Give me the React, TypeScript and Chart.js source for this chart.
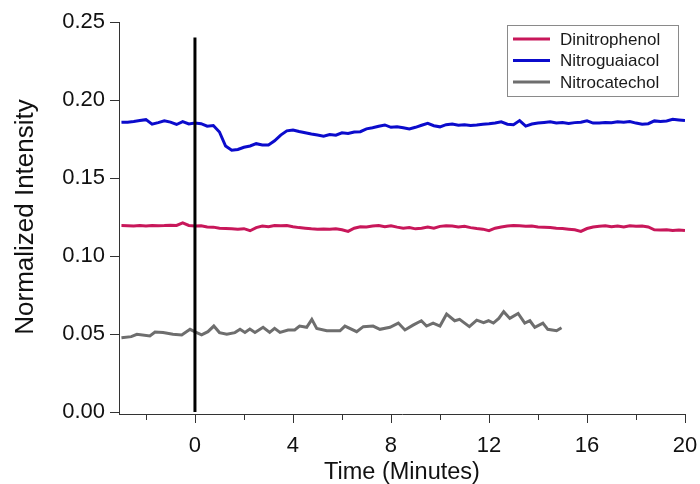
import React, { useEffect, useRef } from 'react';
import { Chart, registerables } from 'chart.js';

Chart.register(...registerables);

const FONT = "'Liberation Sans', Arial, Helvetica, sans-serif";

const TIME = [
  -3, -2.75, -2.5, -2.25, -2, -1.75, -1.5, -1.25, -1, -0.75, -0.5, -0.25,
  0, 0.25, 0.5, 0.75, 1, 1.25, 1.5, 1.75, 2, 2.25, 2.5, 2.75,
  3, 3.25, 3.5, 3.75, 4, 4.25, 4.5, 4.75, 5, 5.25, 5.5, 5.75,
  6, 6.25, 6.5, 6.75, 7, 7.25, 7.5, 7.75, 8, 8.25, 8.5, 8.75,
  9, 9.25, 9.5, 9.75, 10, 10.25, 10.5, 10.75, 11, 11.25, 11.5, 11.75,
  12, 12.25, 12.5, 12.75, 13, 13.25, 13.5, 13.75, 14, 14.25, 14.5, 14.75,
  15, 15.25, 15.5, 15.75, 16, 16.25, 16.5, 16.75, 17, 17.25, 17.5, 17.75,
  18, 18.25, 18.5, 18.75, 19, 19.25, 19.5, 19.75, 20,
];

const DINITROPHENOL = [
  0.1195, 0.1194, 0.1192, 0.1195, 0.1193, 0.1196, 0.1194, 0.1195, 0.1197, 0.1196, 0.1212, 0.1196,
  0.1192, 0.1194, 0.1186, 0.1185, 0.1178, 0.1176, 0.1174, 0.1172, 0.1175, 0.1162, 0.1182, 0.1192,
  0.1188, 0.1196, 0.1194, 0.1195, 0.1188, 0.1182, 0.1178, 0.1174, 0.1172, 0.1173, 0.1171, 0.1174,
  0.1168, 0.1158, 0.1178, 0.1188, 0.1186, 0.1192, 0.1196, 0.1188, 0.1194, 0.1185, 0.1178, 0.1182,
  0.1174, 0.1178, 0.1185, 0.1178, 0.119, 0.1194, 0.1192, 0.1186, 0.119, 0.1182, 0.1176, 0.1172,
  0.1162, 0.1178, 0.1186, 0.1192, 0.1196, 0.1194, 0.119, 0.1192, 0.1186, 0.1184, 0.1182, 0.1178,
  0.1176, 0.1172, 0.1168, 0.1158, 0.1176, 0.1186, 0.119, 0.1194, 0.1188, 0.1192, 0.1186, 0.1194,
  0.119, 0.1192, 0.1186, 0.1168, 0.1166, 0.1168, 0.1164, 0.1167, 0.1163,
];

const NITROGUAIACOL = [
  0.1857, 0.1858, 0.1862, 0.1868, 0.1874, 0.1845, 0.1855, 0.1866, 0.1858, 0.1843, 0.1862, 0.1847,
  0.1852, 0.1848, 0.1832, 0.1836, 0.1795, 0.1705, 0.1678, 0.1683, 0.1697, 0.1705, 0.172, 0.1712,
  0.1712, 0.1738, 0.1775, 0.1802, 0.1808, 0.1798, 0.179, 0.1782, 0.1775, 0.1768, 0.1778, 0.1774,
  0.179, 0.1785, 0.1795, 0.1797, 0.1815, 0.1822, 0.1832, 0.184, 0.1825, 0.1828, 0.1822, 0.1815,
  0.1825, 0.1838, 0.185, 0.1835, 0.1828, 0.1842, 0.1846, 0.1838, 0.1842, 0.1836, 0.184, 0.1845,
  0.1848, 0.1852, 0.186, 0.1845, 0.1842, 0.1868, 0.1833, 0.1846, 0.1852, 0.1856, 0.186, 0.1852,
  0.1855, 0.185, 0.1855, 0.1858, 0.1866, 0.1852, 0.1852, 0.1856, 0.1854, 0.186, 0.1857, 0.1862,
  0.1852, 0.1844, 0.1848, 0.1866, 0.1862, 0.1866, 0.1876, 0.1872, 0.1868,
];

const CATECHOL_TIME = [
  -3, -2.6, -2.37, -1.84, -1.63, -1.3, -0.9, -0.54, -0.2, 0.07,
  0.27, 0.53, 0.77, 1.0, 1.3, 1.63, 1.84, 2.04, 2.24, 2.45,
  2.78, 3.05, 3.25, 3.47, 3.8, 4.07, 4.27, 4.56, 4.77, 4.97,
  5.38, 5.92, 6.12, 6.6, 6.87, 7.27, 7.55, 7.96, 8.3, 8.57,
  8.9, 9.24, 9.45, 9.72, 10.0, 10.27, 10.6, 10.8, 11.2, 11.5,
  11.78, 11.98, 12.18, 12.4, 12.6, 12.85, 13.19, 13.46, 13.67, 13.87,
  14.2, 14.4, 14.76, 14.96,
];

const NITROCATECHOL = [
  0.0476, 0.0483, 0.0498, 0.0487, 0.0513, 0.051, 0.0498, 0.0494, 0.053, 0.0509,
  0.0494, 0.0515, 0.0551, 0.0509, 0.0498, 0.0509, 0.053, 0.051, 0.0532, 0.051,
  0.0543, 0.051, 0.0536, 0.051, 0.0526, 0.0526, 0.0551, 0.0543, 0.0594, 0.0536,
  0.0521, 0.0521, 0.0551, 0.0515, 0.0547, 0.0551, 0.053, 0.0543, 0.057, 0.0526,
  0.0557, 0.0585, 0.0551, 0.057, 0.0551, 0.0628, 0.0585, 0.0594, 0.0547, 0.0589,
  0.0573, 0.0585, 0.057, 0.06, 0.0643, 0.06, 0.0632, 0.057, 0.0585, 0.0543,
  0.057, 0.053, 0.0521, 0.054,
];

const MARKER_TIME = [0, 0];
const MARKER_VALUES = [0, 0.24];

const X_MIN = -3.1;
const X_MAX = 20;
const X_MAJOR_TICKS = [0, 4, 8, 12, 16, 20];
const X_MINOR_TICKS = [-2, 2, 6, 10, 14, 18];
const Y_MIN = 0;
const Y_MAX = 0.25;
const Y_TICKS = [0, 0.05, 0.1, 0.15, 0.2, 0.25];

const SERIES_NAMES = ['Dinitrophenol', 'Nitroguaiacol', 'Nitrocatechol'];
const SERIES_COLORS = ['#C8175A', '#0B0BCC', '#6E6E6E'];

const X_TITLE = 'Time (Minutes)';
const Y_TITLE = 'Normalized Intensity';

const zip = (xs: number[], ys: number[]) => xs.map((x, i) => ({ x, y: ys[i] }));

const axesPlugin = {
  id: 'customAxes',
  afterDraw(chart: any) {
    const { ctx, chartArea, scales } = chart;
    const xs = scales.x;
    const ys = scales.y;
    const axisY = chartArea.bottom + 2;
    const axisX = chartArea.left;
    ctx.save();
    ctx.strokeStyle = '#333';
    ctx.lineWidth = 1;
    ctx.beginPath();
    ctx.moveTo(axisX + 0.5, ys.getPixelForValue(Y_MAX));
    ctx.lineTo(axisX + 0.5, axisY);
    ctx.moveTo(axisX, axisY + 0.5);
    ctx.lineTo(xs.getPixelForValue(X_MAX) + 1, axisY + 0.5);
    Y_TICKS.forEach((v) => {
      const p = Math.round(ys.getPixelForValue(v)) + 0.5;
      ctx.moveTo(axisX - 9, p);
      ctx.lineTo(axisX + 0.5, p);
    });
    X_MAJOR_TICKS.forEach((v) => {
      const p = Math.round(xs.getPixelForValue(v)) + 0.5;
      ctx.moveTo(p, axisY);
      ctx.lineTo(p, axisY + 9);
    });
    X_MINOR_TICKS.forEach((v) => {
      const p = Math.round(xs.getPixelForValue(v)) + 0.5;
      ctx.moveTo(p, axisY);
      ctx.lineTo(p, axisY + 6);
    });
    ctx.stroke();

    const boxL = 507;
    const boxT = 25;
    const boxW = 171;
    const boxH = 71;
    ctx.strokeStyle = '#8a8a8a';
    ctx.lineWidth = 1;
    ctx.strokeRect(boxL + 0.5, boxT + 0.5, boxW, boxH);
    ctx.font = `17px ${FONT}`;
    ctx.textBaseline = 'middle';
    ctx.textAlign = 'left';
    SERIES_NAMES.forEach((name, i) => {
      const yy = boxT + 14 + i * 21.5;
      ctx.strokeStyle = SERIES_COLORS[i];
      ctx.lineWidth = 3;
      ctx.beginPath();
      ctx.moveTo(boxL + 6, yy);
      ctx.lineTo(boxL + 43, yy);
      ctx.stroke();
      ctx.fillStyle = '#1a1a1a';
      ctx.fillText(name, boxL + 53, yy + 1);
    });
    ctx.restore();
  },
};

export default function App() {
  const canvasRef = useRef<HTMLCanvasElement | null>(null);

  useEffect(() => {
    const canvas = canvasRef.current;
    if (!canvas) return;
    const lineDs = (label: string, data: any[], color: string) => ({
      label,
      data,
      borderColor: color,
      backgroundColor: color,
      borderWidth: 3,
      pointRadius: 0,
      tension: 0,
      fill: false,
      order: 1,
    });
    const chart = new Chart(canvas, {
      type: 'line',
      data: {
        datasets: [
          {
            label: 'marker',
            data: zip(MARKER_TIME, MARKER_VALUES),
            borderColor: '#000',
            borderWidth: 3,
            pointRadius: 0,
            fill: false,
            order: 0,
          },
          lineDs(SERIES_NAMES[0], zip(TIME, DINITROPHENOL), SERIES_COLORS[0]),
          lineDs(SERIES_NAMES[1], zip(TIME, NITROGUAIACOL), SERIES_COLORS[1]),
          lineDs(SERIES_NAMES[2], zip(CATECHOL_TIME, NITROCATECHOL), SERIES_COLORS[2]),
        ],
      },
      options: {
        animation: false,
        responsive: false,
        layout: { padding: 0 },
        plugins: { legend: { display: false }, tooltip: { enabled: false } },
        scales: {
          x: {
            type: 'linear',
            min: X_MIN,
            max: X_MAX,
            afterBuildTicks: (s: any) => {
              s.ticks = X_MAJOR_TICKS.map((v) => ({ value: v }));
            },
            afterFit: (s: any) => {
              s.height = 72;
              s.paddingLeft = 0;
              s.paddingRight = 15;
            },
            grid: { display: false },
            border: { display: false },
            ticks: {
              font: { family: FONT, size: 22 },
              color: '#111',
              padding: 13,
              maxRotation: 0,
              callback: (v: any) => String(v),
            },
            title: {
              display: true,
              text: X_TITLE,
              font: { family: FONT, size: 23.5, lineHeight: 1 },
              color: '#111',
              padding: { top: 0, bottom: 0 },
            },
          },
          y: {
            type: 'linear',
            min: Y_MIN,
            max: Y_MAX,
            afterBuildTicks: (s: any) => {
              s.ticks = Y_TICKS.map((v) => ({ value: v }));
            },
            afterFit: (s: any) => {
              s.width = 119;
              s.paddingTop = 22;
              s.paddingBottom = 0;
            },
            grid: { display: false },
            border: { display: false },
            ticks: {
              font: { family: FONT, size: 22 },
              color: '#111',
              padding: 6,
              callback: (v: any) => Number(v).toFixed(2),
            },
            title: {
              display: true,
              text: Y_TITLE,
              font: { family: FONT, size: 26 },
              color: '#111',
              padding: { top: 10, bottom: 0 },
            },
          },
        },
      },
      plugins: [axesPlugin],
    });
    return () => chart.destroy();
  }, []);

  return (
    <div style={{ position: 'absolute', left: 0, top: 0, width: 700, height: 484, background: '#fff' }}>
      <canvas ref={canvasRef} width={700} height={484} />
    </div>
  );
}
